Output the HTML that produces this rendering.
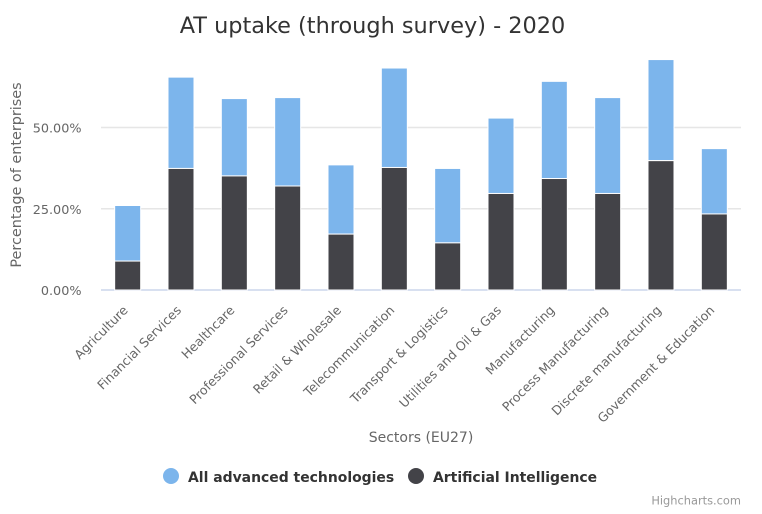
<!DOCTYPE html>
<html>
<head>
<meta charset="utf-8">
<style>
html,body{margin:0;padding:0;background:#fff;}
svg{display:block;font-family:"DejaVu Sans","Liberation Sans",sans-serif;}
</style>
</head>
<body>
<svg id="chart" width="762" height="514" viewBox="0 0 762 514" xmlns="http://www.w3.org/2000/svg">
<rect width="762" height="514" fill="#ffffff"/>
<text x="372.5" y="33" text-anchor="middle" font-size="22.4" fill="#333333">AT uptake (through survey) - 2020</text>
<g id="grid"></g>
<g id="bars"></g>
<g id="ylabels"></g>
<g id="xlabels"></g>
<text transform="translate(21,175) rotate(-90)" text-anchor="middle" font-size="14.4" fill="#666666">Percentage of enterprises</text>
<text x="421" y="442" text-anchor="middle" font-size="14" fill="#666666">Sectors (EU27)</text>
<g>
<circle cx="171" cy="476" r="8" fill="#7cb5ec"/>
<text x="188" y="482" font-size="13.95" font-weight="bold" fill="#333333">All advanced technologies</text>
</g>
<g>
<circle cx="416" cy="476" r="8" fill="#434348"/>
<text x="433" y="482" font-size="13.95" font-weight="bold" fill="#333333">Artificial Intelligence</text>
</g>
<text x="741" y="504.5" text-anchor="end" font-size="11.4" fill="#999999">Highcharts.com</text>
</svg>
<script>
var categories = ["Agriculture","Financial Services","Healthcare","Professional Services","Retail & Wholesale","Telecommunication","Transport & Logistics","Utilities and Oil & Gas","Manufacturing","Process Manufacturing","Discrete manufacturing","Government & Education"];
var allAdvancedTech = [17.1,28.1,23.8,27.2,21.3,30.6,22.9,23.2,29.9,29.5,31.1,20.1];
var artificialIntelligence = [8.9,37.4,35.1,32.0,17.2,37.7,14.5,29.7,34.3,29.7,39.8,23.4];
var yTicks = [0,25,50];
var yTickLabels = ["0.00%","25.00%","50.00%"];

var NS = "http://www.w3.org/2000/svg";
var plotLeft = 101, plotWidth = 640, baseY = 290, pxPerUnit = 3.25, barWidth = 26;
function yScale(v){ return baseY - v * pxPerUnit; }
function xCenter(i){ return plotLeft + (i + 0.5) * plotWidth / categories.length; }
function make(tag, attrs, parent){
  var el = document.createElementNS(NS, tag);
  for (var k in attrs) el.setAttribute(k, attrs[k]);
  parent.appendChild(el);
  return el;
}
var grid = document.getElementById("grid");
var barsG = document.getElementById("bars");
var yG = document.getElementById("ylabels");
var xG = document.getElementById("xlabels");

yTicks.forEach(function(t, i){
  var y = yScale(t);
  var line = make("line", {x1: plotLeft, x2: plotLeft + plotWidth, y1: y, y2: y, stroke: t === 0 ? "#ccd6eb" : "#e6e6e6", "stroke-width": 1.5}, grid);
  
  
  var lab = make("text", {x: 81.5, y: y + 5, "text-anchor": "end", "font-size": 12.8, fill: "#666666"}, yG);
  
  
  lab.textContent = yTickLabels[i];
});

categories.forEach(function(c, i){
  var cx = xCenter(i), x = cx - barWidth / 2;
  var ai = artificialIntelligence[i], at = allAdvancedTech[i];
  var yAi = yScale(ai), yTop = yScale(ai + at);
  var r1 = make("rect", {x: x, y: yTop, width: barWidth, height: yAi - yTop, fill: "#7cb5ec", stroke: "#ffffff", "stroke-width": 1}, barsG);
  
  
  var r2 = make("rect", {x: x, y: yAi, width: barWidth, height: baseY - yAi, fill: "#434348", stroke: "#ffffff", "stroke-width": 1}, barsG);
  
  
  var lx = cx + 1, ly = 311;
  var t = make("text", {x: lx, y: ly, "text-anchor": "end", "font-size": 12.6, fill: "#666666", transform: "rotate(-45 " + lx + " " + ly + ")"}, xG);
  
  
  t.textContent = c;
});
</script>
</body>
</html>
